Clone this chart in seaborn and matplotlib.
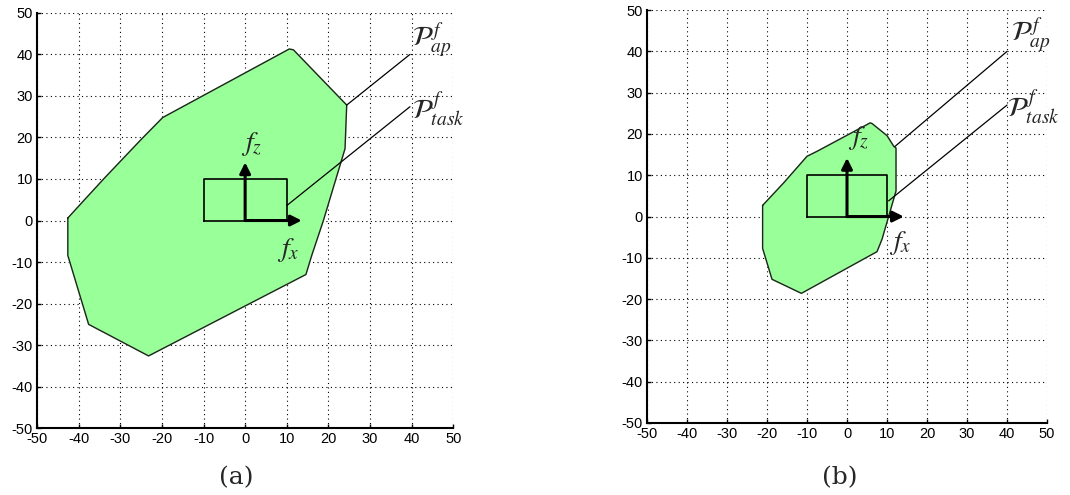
import seaborn as sns
import matplotlib.pyplot as plt

# polygon (a): achievable force polytope
ap_a_x = [-42.6, -39.5, -34.0, -25.0, -19.8, 10.6, 11.6, 24.4, 24.0, 18.8, 16.0, 14.6, -23.2, -37.6, -42.6, -42.6]
ap_a_z = [0.6, 4.0, 10.0, 19.5, 24.8, 41.3, 41.1, 27.8, 17.3, 0.0, -8.4, -13.0, -32.6, -25.0, -8.4, 0.6]

# polygon (b)
ap_b_x = [-21.1, -15.8, -10.0, -7.5, 5.8, 6.3, 10.0, 11.7, 12.25, 12.25, 8.75, 7.5, -11.4, -18.75, -21.1, -21.1]
ap_b_z = [2.7, 8.2, 14.6, 15.8, 22.7, 22.5, 19.6, 17.0, 16.6, 6.2, -5.5, -8.5, -18.6, -15.2, -7.7, 2.7]

# task polytope (rectangle), same in both panels
task_x = [-10, 10, 10, -10, -10]
task_z = [0, 0, 10, 10, 0]

ticks = [-50, -40, -30, -20, -10, 0, 10, 20, 30, 40, 50]

panels = [
    dict(px=ap_a_x, pz=ap_a_z, fz_tip=14.0, fx_tip=13.6, fz_lab=(1.5, 18.5), fx_lab=(10.3, -7.0),
         ap_from=(24.4, 27.8), ap_to=(39.6, 40.0), ap_txt=(40.0, 43.5),
         task_from=(10.0, 3.6), task_to=(39.6, 27.4), task_txt=(40.0, 26.6),
         rect=[0.0346, 0.135, 0.389, 0.839], cap="(a)", cap_x=0.221),
    dict(px=ap_b_x, pz=ap_b_z, fz_tip=14.2, fx_tip=14.2, fz_lab=(3.0, 19.0), fx_lab=(13.2, -6.3),
         ap_from=(12.0, 17.0), ap_to=(40.0, 40.0), ap_txt=(41.0, 43.9),
         task_from=(10.4, 3.8), task_to=(40.0, 27.0), task_txt=(40.0, 26.3),
         rect=[0.6047, 0.1455, 0.3738, 0.834], cap="(b)", cap_x=0.785),
]

sns.set_style("white")
plt.rcParams['font.family'] = ['Liberation Sans', 'DejaVu Sans']
plt.rcParams['mathtext.fontset'] = 'stix'
plt.rcParams['axes.unicode_minus'] = False

fig = plt.figure(figsize=(10.7, 4.95), dpi=100)

for p in panels:
    ax = fig.add_axes(p["rect"])
    ax.fill(p["px"], p["pz"], color="#99ff99", zorder=1)
    sns.lineplot(x=p["px"], y=p["pz"], sort=False, estimator=None, color="#222222", lw=1, ax=ax, zorder=2)
    sns.lineplot(x=task_x, y=task_z, sort=False, estimator=None, color="black", lw=1.2, ax=ax, zorder=3)

    ax.annotate("", xy=(0, p["fz_tip"]), xytext=(0, 0),
                arrowprops=dict(arrowstyle="-|>", lw=2.2, color="black", mutation_scale=16, shrinkA=0, shrinkB=0), zorder=4)
    ax.annotate("", xy=(p["fx_tip"], 0), xytext=(0, 0),
                arrowprops=dict(arrowstyle="-|>", lw=2.2, color="black", mutation_scale=16, shrinkA=0, shrinkB=0), zorder=4)
    ax.text(*p["fz_lab"], r"$f_z$", fontsize=20, ha="center", va="center")
    ax.text(*p["fx_lab"], r"$f_x$", fontsize=20, ha="center", va="center")

    ax.plot([p["ap_from"][0], p["ap_to"][0]], [p["ap_from"][1], p["ap_to"][1]], color="black", lw=0.9)
    ax.plot([p["task_from"][0], p["task_to"][0]], [p["task_from"][1], p["task_to"][1]], color="black", lw=0.9)
    ax.text(*p["ap_txt"], r"$\mathcal{P}_{ap}^{\,f}$", fontsize=20, ha="left", va="center", clip_on=False)
    ax.text(*p["task_txt"], r"$\mathcal{P}_{task}^{\,f}$", fontsize=20, ha="left", va="center", clip_on=False)

    ax.set_xlim(-50, 50)
    ax.set_ylim(-50, 50)
    ax.set_xticks(ticks)
    ax.set_yticks(ticks)
    ax.grid(True, color="black", linestyle=(0, (1, 3)), lw=0.8)
    ax.set_axisbelow(True)
    for s in ["top", "right"]:
        ax.spines[s].set_visible(False)
    for s in ["left", "bottom"]:
        ax.spines[s].set_color("black")
        ax.spines[s].set_linewidth(1.5)
    ax.tick_params(direction="in", length=3, width=1, labelsize=10.5, pad=3, colors="black", left=True, bottom=True)
    ax.set_xlabel("")
    ax.set_ylabel("")

    fig.text(p["cap_x"], 0.035, p["cap"], fontsize=18, family="DejaVu Serif", ha="center", va="center")

fig.savefig("out.png", dpi=100, facecolor="white")
